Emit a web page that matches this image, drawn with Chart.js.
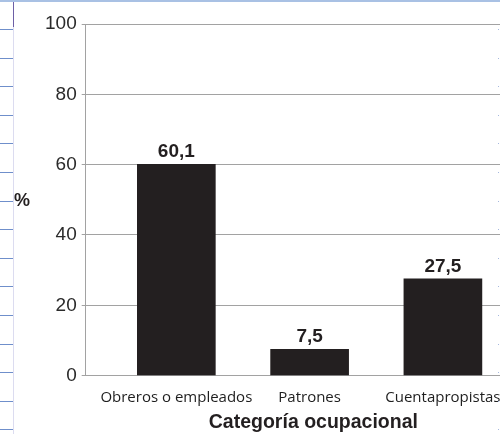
<!DOCTYPE html>
<html lang="es">
<head>
<meta charset="utf-8">
<title>Categoría ocupacional</title>
<script src="https://cdn.jsdelivr.net/npm/chart.js@4/dist/chart.umd.min.js"></script>
<style>
  html, body { margin: 0; padding: 0; background: #fff; }
  body { width: 500px; height: 434px; overflow: hidden; position: relative; }
  #wrap { position: absolute; left: 0; top: 0; width: 545px; height: 434px; }
  /* ruled margin of the page */
  .rule { position: absolute; height: 1px; }
  .rule.left { left: 0; width: 13px; background: #6f8fcb; }
  .rule.right { left: 498px; width: 1px; background: #a6b8de; }
  .margin-line { position: absolute; left: 13px; top: 0; width: 1px; height: 434px; background: #dcdcf0; }
  .margin-top { position: absolute; left: 13px; top: 0; width: 1px; height: 27px; background: #6d5fa6; }
  .top-line { position: absolute; left: 0; top: 0; width: 500px; height: 2px; background: #a9c1e4; }
</style>
</head>
<body>
<div id="wrap"><canvas id="chart" width="545" height="434"></canvas></div>
<div class="margin-line"></div>
<div class="margin-top"></div>
<div class="top-line"></div>
<script>
const categories = ["Obreros o empleados", "Patrones", "Cuentapropistas"];
const values = [60.1, 7.5, 27.5];
const valueLabels = ["60,1", "7,5", "27,5"];
const yTicks = [0, 20, 40, 60, 80, 100];

const ink = "#231f20";
const gridGray = "#a2a2a2";

// notebook rules down both edges
for (let k = 0; k < 15; k++) {
  const y = Math.round(29 + 28.6 * k);
  ["left", "right"].forEach(side => {
    const d = document.createElement("div");
    d.className = "rule " + side;
    d.style.top = y + "px";
    document.body.appendChild(d);
  });
}

// value above each bar, plus the "%" beside the y axis
const barLabels = {
  id: "barLabels",
  afterDatasetsDraw(chart) {
    const ctx = chart.ctx;
    const meta = chart.getDatasetMeta(0);
    ctx.save();
    ctx.fillStyle = ink;
    ctx.font = "bold 19px 'Liberation Sans', Arial, sans-serif";
    ctx.textAlign = "center";
    ctx.textBaseline = "alphabetic";
    meta.data.forEach((bar, i) => {
      ctx.fillText(valueLabels[i], bar.x, bar.y - 7);
    });
    const area = chart.chartArea;
    ctx.font = "bold 18px 'Liberation Sans', Arial, sans-serif";
    ctx.textAlign = "left";
    ctx.textBaseline = "middle";
    ctx.fillText("%", 14, (area.top + area.bottom) / 2 + 1);
    ctx.restore();
  }
};

const ctx = document.getElementById("chart").getContext("2d");
new Chart(ctx, {
  type: "bar",
  data: {
    datasets: [{
      data: values.map((v, i) => ({ x: i, y: v })),
      backgroundColor: ink,
      borderWidth: 0,
      barThickness: 78
    }]
  },
  options: {
    responsive: false,
    animation: false,
    layout: { padding: { left: 40, top: 24, right: 4, bottom: 0 } },
    plugins: {
      legend: { display: false },
      tooltip: { enabled: false }
    },
    scales: {
      x: {
        type: "linear",
        offset: false,
        min: -0.68,
        max: 2.736,
        afterBuildTicks: s => { s.ticks = categories.map((c, i) => ({ value: i })); },
        grid: { display: false, drawTicks: false },
        border: { display: true, color: gridGray, width: 1 },
        ticks: {
          color: "#1e1e1e",
          padding: 13,
          maxRotation: 0,
          autoSkip: false,
          font: { family: "'Open Sans', sans-serif", size: 15 },
          callback: v => categories[v]
        },
        title: {
          display: true,
          text: "Categoría ocupacional",
          color: ink,
          padding: { top: -9, bottom: 0 },
          font: { family: "'Liberation Sans', Arial, sans-serif", size: 19.5, weight: "bold" }
        }
      },
      y: {
        min: 0,
        max: 100,
        afterBuildTicks: s => { s.ticks = yTicks.map(v => ({ value: v })); },
        grid: { color: gridGray, lineWidth: 1, tickLength: 4 },
        border: { display: true, color: gridGray, width: 1 },
        ticks: {
          color: "#2b2b2b",
          padding: 5,
          font: { family: "'Liberation Sans', Arial, sans-serif", size: 19 }
        }
      }
    }
  },
  plugins: [barLabels]
});
</script>
</body>
</html>
